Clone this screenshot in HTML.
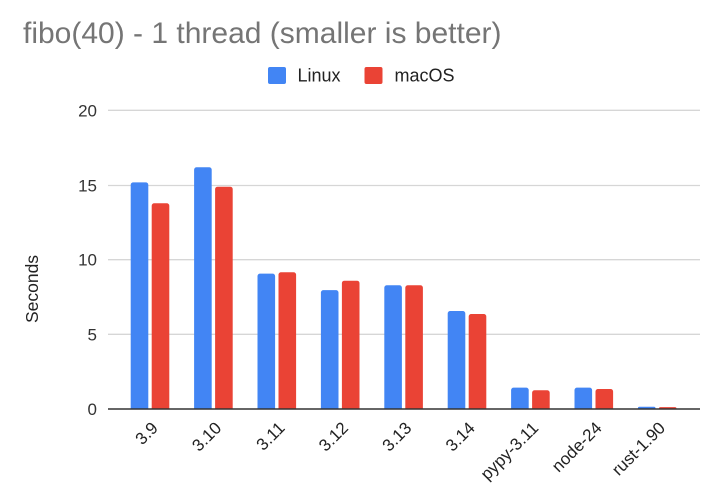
<!DOCTYPE html>
<html><head><meta charset="utf-8"><style>
html,body{margin:0;padding:0;background:#fff;}
svg{display:block;}
text{font-family:"Liberation Sans",Arial,sans-serif;}
</style></head><body>
<svg width="715" height="496" viewBox="0 0 715 496" xmlns="http://www.w3.org/2000/svg">
<defs><clipPath id="pc"><rect x="100" y="0" width="610" height="409"/></clipPath></defs>
<rect width="715" height="496" fill="#fff"/>
<text x="23" y="43" font-size="30" fill="#757575">fibo(40) - 1 thread (smaller is better)</text>
<rect x="268" y="67" width="18" height="17" rx="2" fill="#4285f4"/>
<text x="297.5" y="81.5" font-size="18" fill="#222">Linux</text>
<rect x="364.5" y="67" width="18" height="17" rx="2" fill="#ea4335"/>
<text x="394.5" y="81.5" font-size="18" fill="#222">macOS</text>
<g stroke="#d6d6d6" stroke-width="1.3">
<line x1="108" y1="110.3" x2="700" y2="110.3"/>
<line x1="108" y1="185.5" x2="700" y2="185.5"/>
<line x1="108" y1="259.7" x2="700" y2="259.7"/>
<line x1="108" y1="334.3" x2="700" y2="334.3"/>
</g>
<g font-size="17" fill="#333" text-anchor="end">
<text x="97" y="116.5">20</text>
<text x="97" y="191.5">15</text>
<text x="97" y="265.7">10</text>
<text x="97" y="340.3">5</text>
<text x="97" y="415">0</text>
</g>
<text transform="translate(38,289) rotate(-90)" font-size="17.5" fill="#222" text-anchor="middle">Seconds</text>
<g clip-path="url(#pc)">
<g fill="#4285f4">
<rect x="130.7" y="182.4" width="17.6" height="240" rx="2.5"/>
<rect x="194.1" y="167.3" width="17.6" height="250" rx="2.5"/>
<rect x="257.5" y="273.6" width="17.6" height="150" rx="2.5"/>
<rect x="320.9" y="290.1" width="17.6" height="130" rx="2.5"/>
<rect x="384.3" y="285.3" width="17.6" height="130" rx="2.5"/>
<rect x="447.7" y="311" width="17.6" height="110" rx="2.5"/>
<rect x="511.1" y="387.6" width="17.6" height="40" rx="2.5"/>
<rect x="574.5" y="387.6" width="17.6" height="40" rx="2.5"/>
<rect x="637.9" y="406.8" width="17.6" height="20" rx="1.5"/>
</g>
<g fill="#ea4335">
<rect x="151.7" y="203.3" width="17.6" height="240" rx="2.5"/>
<rect x="215.1" y="186.7" width="17.6" height="250" rx="2.5"/>
<rect x="278.5" y="272.3" width="17.6" height="150" rx="2.5"/>
<rect x="341.9" y="280.7" width="17.6" height="140" rx="2.5"/>
<rect x="405.3" y="285.3" width="17.6" height="130" rx="2.5"/>
<rect x="468.7" y="314" width="17.6" height="110" rx="2.5"/>
<rect x="532.1" y="390.3" width="17.6" height="40" rx="2.5"/>
<rect x="595.5" y="389" width="17.6" height="40" rx="2.5"/>
<rect x="658.9" y="407.1" width="17.6" height="20" rx="1.5"/>
</g>
</g>
<line x1="108" y1="409" x2="700" y2="409" stroke="#333" stroke-width="1.5"/>
<g font-size="17" fill="#222" text-anchor="end">
<text transform="translate(159,429) rotate(-45)">3.9</text>
<text transform="translate(222.4,429) rotate(-45)">3.10</text>
<text transform="translate(285.8,429) rotate(-45)">3.11</text>
<text transform="translate(349.2,429) rotate(-45)">3.12</text>
<text transform="translate(412.6,429) rotate(-45)">3.13</text>
<text transform="translate(476,429) rotate(-45)">3.14</text>
<text transform="translate(539.4,429) rotate(-45)">pypy-3.11</text>
<text transform="translate(602.8,429) rotate(-45)">node-24</text>
<text transform="translate(666.2,429) rotate(-45)">rust-1.90</text>
</g>
</svg>
</body></html>
